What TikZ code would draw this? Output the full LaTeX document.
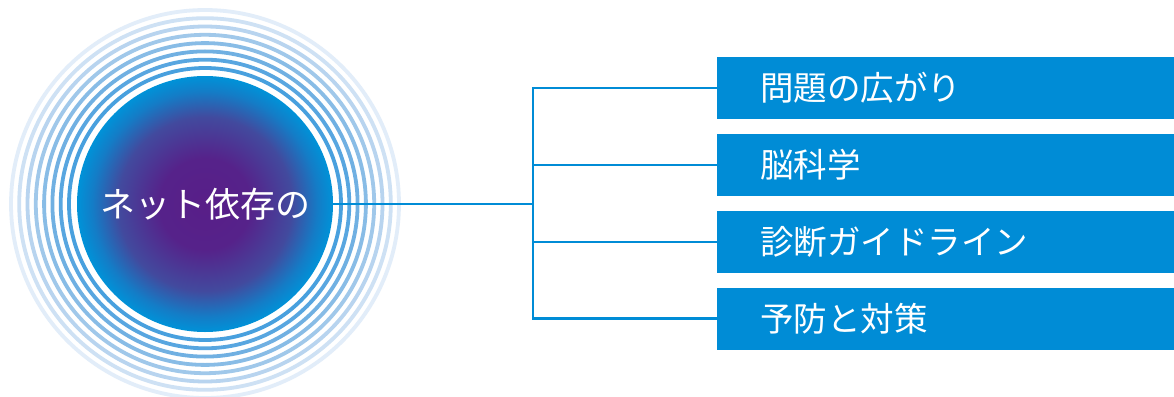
\documentclass[tikz,border=0pt]{standalone}
\usepackage{fontspec}
\newfontfamily\jp{Noto Sans CJK JP}
\definecolor{cpurple}{RGB}{88,30,136}
\definecolor{cmid}{RGB}{66,74,158}
\definecolor{cedge}{RGB}{0,146,216}
\definecolor{boxblue}{RGB}{0,140,214}
\definecolor{lineblue}{RGB}{0,140,214}
\definecolor{r1}{RGB}{72,160,222}
\definecolor{r2}{RGB}{88,166,224}
\definecolor{r3}{RGB}{112,176,226}
\definecolor{r4}{RGB}{136,188,230}
\definecolor{r5}{RGB}{160,200,234}
\definecolor{r6}{RGB}{184,212,239}
\definecolor{r7}{RGB}{206,225,244}
\definecolor{r8}{RGB}{226,237,249}
\pgfdeclareradialshading{coreshade}{\pgfpoint{0bp}{0bp}}{%
  color(0bp)=(cpurple); color(9bp)=(cpurple!90!cmid); color(17bp)=(cmid);
  color(22bp)=(cedge!70!cmid); color(25bp)=(cedge); color(50bp)=(cedge)}
\tikzset{
  x=1pt, y=-1pt,
  ring/.style={line width=3.8pt},
  link/.style={draw=lineblue, line width=2.8pt},
  topic/.style={fill=boxblue, rectangle, anchor=west, minimum height=62pt,
    inner xsep=43pt, inner ysep=0pt, text width=371pt, align=left,
    text=white, font=\jp\fontsize{33.5}{38}\selectfont},
  core/.style={circle, minimum size=256pt, inner sep=0pt, shading=coreshade,
    text=white, font=\jp\fontsize{35}{40}\selectfont}
}
\begin{document}
\begin{tikzpicture}
\useasboundingbox (0,0) rectangle (1174,396);
\fill[white] (0,0) rectangle (1174,396);
% rings
\foreach \r/\c in {136/r1,144.3/r2,152.6/r3,160.9/r4,169.2/r5,177.5/r6,185.8/r7,194/r8}
  \draw[ring, \c] (205,204) circle[radius=\r];
\node[core] (c) at (205,204) {ネット依存の};
\coordinate (j) at (533,204);
\node[topic] (b1) at (717,88) {問題の広がり};
\node[topic] (b2) at (717,165) {脳科学};
\node[topic] (b3) at (717,242) {診断ガイドライン};
\node[topic] (b4) at (717,318.5) {予防と対策};
\draw[link] (c.east) -- (j);
\draw[link, line cap=rect] (j |- b1.west) -- (j |- b4.west);
\foreach \b in {b1,b2,b3,b4}
  \draw[link] (j |- \b.west) -- (\b.west);
\end{tikzpicture}
\end{document}
